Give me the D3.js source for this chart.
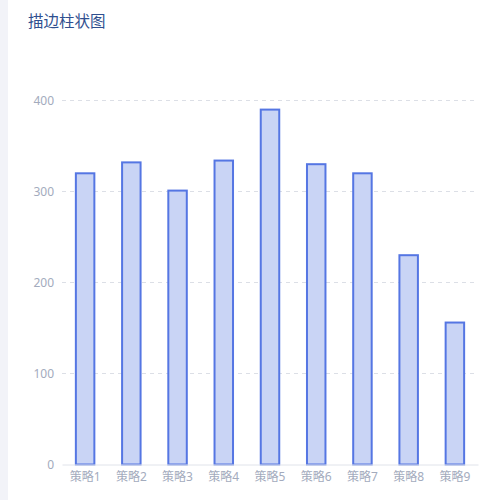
<!DOCTYPE html>
<html><head><meta charset="utf-8">
<script src="https://cdn.jsdelivr.net/npm/d3@7/dist/d3.min.js"></script>
<style>
html,body{margin:0;padding:0;background:#fff;}
svg{display:block;font-family:"Noto Sans","Noto Sans CJK SC",sans-serif;}
</style></head>
<body>
<svg id="chart" width="500" height="500"></svg>
<script>
const title = "描边柱状图";
const categories = ["策略1","策略2","策略3","策略4","策略5","策略6","策略7","策略8","策略9"];
const values = [320, 332, 301, 334, 390, 330, 320, 230, 156];
const yTicks = [0, 100, 200, 300, 400];

const svg = d3.select("#chart");
svg.append("rect").attr("x",0).attr("y",0).attr("width",8).attr("height",500).attr("fill","#f2f3f8");

svg.append("text").attr("x",28).attr("y",27).attr("font-size","15.5px").attr("fill","#2f4f8f").text(title);

const x = d3.scaleBand().domain(categories).range([62,478]).padding(0);
const y = d3.scaleLinear().domain([0,400]).range([464.5,100.5]);

// grid
const grid = svg.append("g");
yTicks.filter(t=>t>0).forEach(t=>{
  grid.append("line").attr("x1",62).attr("x2",478).attr("y1",y(t)).attr("y2",y(t))
    .attr("stroke","#dcdfe6").attr("stroke-width",1).attr("stroke-dasharray","4,4");
});

// y axis labels
const yAxis = d3.axisLeft(y).tickValues(yTicks).tickSize(0).tickPadding(8);
const ya = svg.append("g").attr("transform","translate(62,0)").call(yAxis);
ya.select(".domain").remove();
ya.selectAll("text").attr("fill","#a3abbd").attr("font-size","12px").attr("font-family","'Noto Sans',sans-serif");

// bars
const bw = x.bandwidth()*0.4;
svg.append("g").selectAll("rect").data(values).join("rect")
  .attr("x",(d,i)=>x(categories[i])+x.bandwidth()/2-bw/2)
  .attr("y",d=>y(d))
  .attr("width",bw)
  .attr("height",d=>y(0)-y(d))
  .attr("fill","#c9d4f5")
  .attr("stroke","#5576e3")
  .attr("stroke-width",2);

// x axis
const xAxis = d3.axisBottom(x).tickSize(0).tickPadding(8);
const xa = svg.append("g").attr("transform",`translate(0,${y(0)})`).call(xAxis);
xa.select(".domain").attr("stroke","#e0e3ea");
xa.selectAll("text").attr("fill","#a3abbd").attr("font-size","12px").attr("font-family","'Noto Sans','Noto Sans CJK SC',sans-serif");
</script>
</body></html>
